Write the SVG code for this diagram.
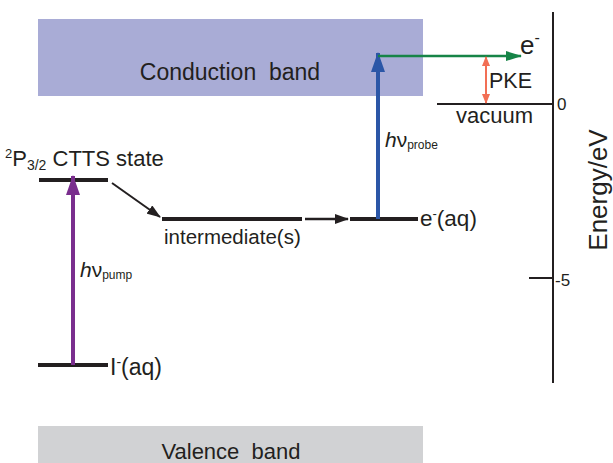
<svg xmlns="http://www.w3.org/2000/svg" width="613" height="463" viewBox="0 0 613 463">
<style>
text{font-family:"Liberation Sans",Arial,sans-serif;fill:#231f20}
.lvl{stroke:#231f20;stroke-width:4;fill:none}
.ln{stroke:#231f20;stroke-width:2;fill:none}
</style>
<defs>
<marker id="ab2" markerWidth="14" markerHeight="10" refX="13" refY="5" orient="auto" markerUnits="userSpaceOnUse"><path d="M0,0 L14,5 L0,10 Z" fill="#231f20"/></marker>
<marker id="ap" markerWidth="20" markerHeight="14" refX="19" refY="7" orient="auto" markerUnits="userSpaceOnUse"><path d="M0,0 L20,7 L0,14 Z" fill="#7a2e8e"/></marker>
<marker id="abl" markerWidth="20" markerHeight="14" refX="19" refY="7" orient="auto" markerUnits="userSpaceOnUse"><path d="M0,0 L20,7 L0,14 Z" fill="#2b56a7"/></marker>
<marker id="ag" markerWidth="16" markerHeight="10" refX="15" refY="5" orient="auto" markerUnits="userSpaceOnUse"><path d="M0,0 L16,5 L0,10 Z" fill="#168447"/></marker>
<marker id="ao" markerWidth="10" markerHeight="8" refX="9" refY="4" orient="auto-start-reverse" markerUnits="userSpaceOnUse"><path d="M0,0 L10,4 L0,8 Z" fill="#f26f55"/></marker>
</defs>
<g id="conduction-band"><rect x="38" y="19" width="385" height="77" fill="#a9acd6"/><text x="230" y="80" font-size="23" text-anchor="middle" xml:space="preserve">Conduction  band</text></g>
<g id="valence-band"><rect x="38" y="426" width="385" height="37" fill="#d1d2d4"/><text x="231" y="459" font-size="22" text-anchor="middle" xml:space="preserve">Valence  band</text></g>
<g id="axis">
<line class="ln" x1="553" y1="12" x2="553" y2="383"/>
<line class="ln" x1="529" y1="278" x2="553" y2="278"/>
<text x="557" y="110" font-size="17">0</text>
<text x="555" y="286" font-size="17">-5</text>
<text transform="translate(607,190) rotate(-90)" font-size="26" text-anchor="middle">Energy/eV</text>
</g>
<g id="vacuum"><line class="ln" x1="437" y1="104" x2="553" y2="104"/><text x="456" y="123" font-size="22">vacuum</text></g>
<g id="ctts"><line class="lvl" x1="39" y1="180" x2="108" y2="180"/><text x="5" y="166" font-size="22"><tspan font-size="13" dy="-8">2</tspan><tspan dy="8">P</tspan><tspan font-size="14" dy="4">3/2</tspan><tspan dy="-4"> CTTS state</tspan></text></g>
<g id="intermediate"><line class="lvl" x1="162" y1="219" x2="302" y2="219"/><text x="164" y="244" font-size="20.5">intermediate(s)</text></g>
<g id="eaq"><line class="lvl" x1="350" y1="219" x2="418" y2="219"/><text x="420" y="226" font-size="22.5">e<tspan font-size="13" dy="-8">-</tspan><tspan dy="8">(aq)</tspan></text></g>
<g id="iaq"><line class="lvl" x1="38" y1="365" x2="108" y2="365"/><text x="110" y="375" font-size="23">I<tspan font-size="14" dy="-8">-</tspan><tspan dy="8">(aq)</tspan></text></g>
<g id="electron"><text x="520" y="54" font-size="26">e<tspan font-size="16" dy="-11">-</tspan></text></g>
<g id="connectors">
<line x1="73" y1="365" x2="73" y2="176" stroke="#7a2e8e" stroke-width="4" marker-end="url(#ap)"/>
<line x1="378" y1="219" x2="378" y2="53" stroke="#2b56a7" stroke-width="4" marker-end="url(#abl)"/>
<line x1="378" y1="56" x2="521" y2="56" stroke="#168447" stroke-width="2.5" marker-end="url(#ag)"/>
<line x1="486" y1="57" x2="486" y2="103" stroke="#f26f55" stroke-width="2" marker-start="url(#ao)" marker-end="url(#ao)"/>
<line x1="112" y1="183" x2="160" y2="217" stroke="#231f20" stroke-width="2" marker-end="url(#ab2)"/>
<line x1="305" y1="219" x2="348" y2="219" stroke="#231f20" stroke-width="2.5" marker-end="url(#ab2)"/>
<text x="80" y="277" font-size="21"><tspan font-style="italic">h</tspan>ν<tspan font-size="12" dy="2">pump</tspan></text>
<text x="385" y="147" font-size="21"><tspan font-style="italic">h</tspan>ν<tspan font-size="12" dy="2">probe</tspan></text>
<text x="489" y="88" font-size="21.5">PKE</text>
</g>
</svg>
